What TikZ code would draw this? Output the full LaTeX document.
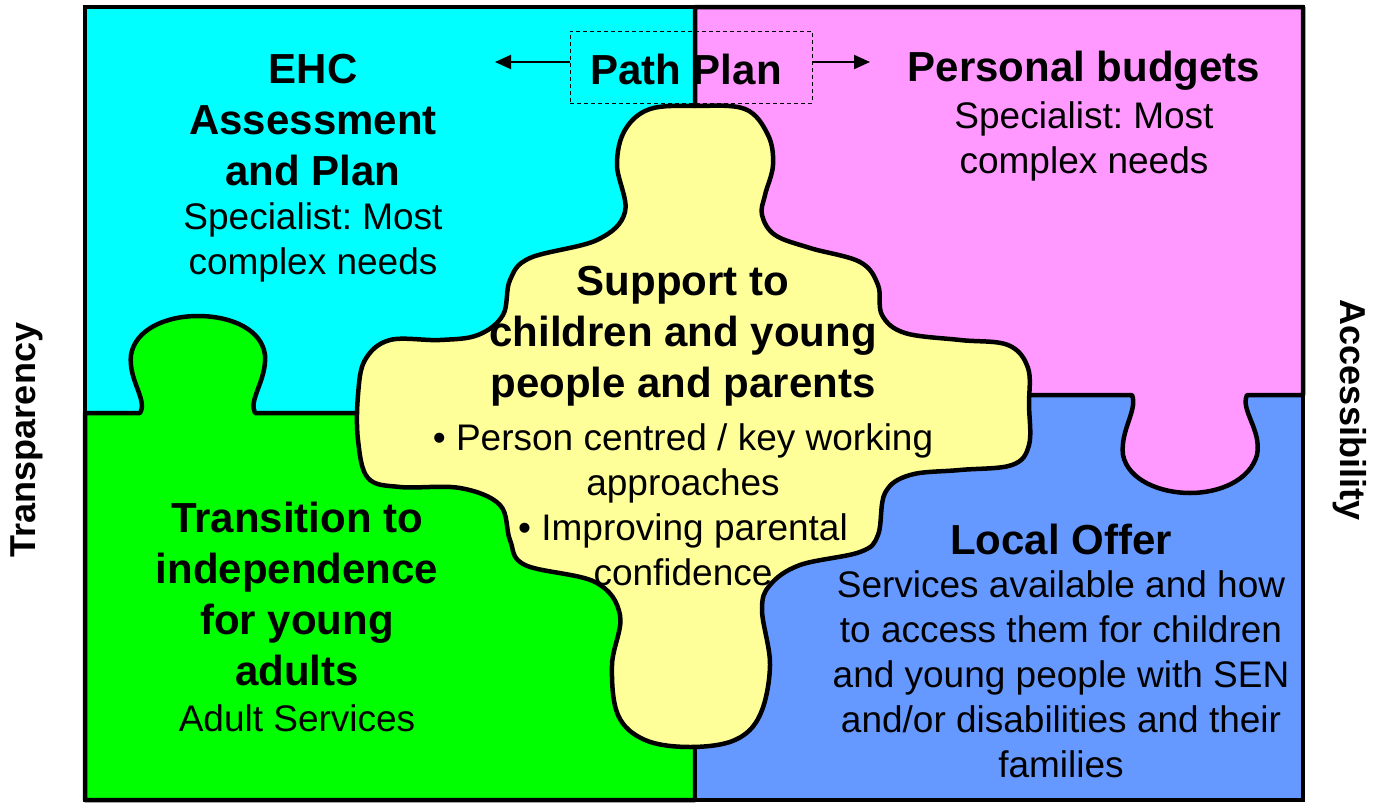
\documentclass[tikz,border=0pt]{standalone}
\usepackage{fontspec}
\setmainfont{Liberation Sans}
\usetikzlibrary{arrows.meta}
\definecolor{ehccyan}{HTML}{00FFFF}
\definecolor{budgetpink}{HTML}{FF99FF}
\definecolor{transgreen}{HTML}{00FF00}
\definecolor{offerblue}{HTML}{6699FF}
\definecolor{supportyellow}{HTML}{FFFF99}
\frenchspacing

\begin{document}
\begin{tikzpicture}[x=1pt,y=-1pt,
   piece/.style={draw=black,line width=4.5pt,line join=round},
   title/.style={font=\bfseries\fontsize{42}{51}\selectfont,align=center,inner sep=0pt},
   body/.style={font=\fontsize{37}{45}\selectfont,align=center,inner sep=0pt},
   side/.style={font=\bfseries\fontsize{36}{43}\selectfont,inner sep=0pt},
   pathbox/.style={draw=black,line width=1pt,dash pattern=on 4pt off 3pt,
      minimum width=242pt,minimum height=72pt,inner sep=0pt},
   arrow/.style={line width=2pt,-{Triangle[length=16pt,width=14pt]}}]
\useasboundingbox (0,0) rectangle (1373,803);
% the four outer pieces
\fill[ehccyan,piece] (85,7) rectangle (695,413);
\fill[transgreen,piece] (85,413) -- (140,413)
   .. controls (148,400) and (128,380) .. (131,355)
   .. controls (135,330) and (165,316) .. (198,316)
   .. controls (232,316) and (262,330) .. (265,355)
   .. controls (267,380) and (248,400) .. (255,413)
   -- (695,413) -- (695,800) -- (85,800) -- cycle;
\fill[offerblue,piece] (695,395) rectangle (1303,800);
\fill[budgetpink,piece] (695,7) -- (1303,7) -- (1303,395) -- (1247,395)
   .. controls (1240,410) and (1262,430) .. (1257,455)
   .. controls (1250,480) and (1220,493) .. (1190,493)
   .. controls (1160,493) and (1128,480) .. (1123,455)
   .. controls (1120,430) and (1138,410) .. (1132,395)
   -- (695,395) -- cycle;
% centre piece
\fill[supportyellow,piece] plot[smooth cycle,tension=0.6] coordinates {
   (695,106) (745,109) (768,135) (773,165) (765,195) (762,215) (775,235)
   (810,248) (860,262) (878,285) (882,315) (905,333) (960,340) (1008,345)
   (1028,368) (1029,405) (1029,445) (1012,465) (960,470) (910,475) (885,493)
   (878,535) (860,552) (800,565) (770,585) (762,610) (770,665) (760,715)
   (735,740) (690,747) (645,740) (618,715) (612,665) (620,615) (595,582)
   (525,565) (510,540) (500,505) (460,488) (400,487) (368,478) (358,440)
   (358,395) (365,360) (390,340) (440,340) (478,335) (503,315) (510,280)
   (530,258) (597,240) (625,212) (617,165) (625,130) (650,109)};
\draw[line width=4pt] (85,7) rectangle (1303,800);

\node[pathbox] (pathplan) at (691,67) {};
\node[title] (pathtext) at (686,69) {Path Plan};
\coordinate (pathleft) at (495,62);
\coordinate (pathright) at (870,62);
\draw[arrow] (pathplan.west |- pathleft) -- (pathleft);
\draw[arrow] (pathplan.east |- pathright) -- (pathright);

\node[title] (ehc) at (313,120) {EHC\\Assessment\\and Plan};
\node[body] (ehcsub) at (313,242) {Specialist: Most\\complex needs};
\node[title] (budgets) at (1084,71) {Personal budgets};
\node[body] (budgetssub) at (1084,141) {Specialist: Most\\complex needs};
\node[title] (support) at (683,336) {Support to\\children and young\\people and parents};
\node[body] (supportsub) at (683,505) {\textbullet\ Person centred / key working\\approaches\\\textbullet\ Improving parental\\confidence};
\node[title] (transition) at (297,594) {Transition to\\independence\\for young\\adults};
\node[body] (transitionsub) at (297,718) {Adult Services};
\node[title] (offer) at (1061,539) {Local Offer};
\node[body] (offersub) at (1061,674) {Services available and how\\to access them for children\\and young people with SEN\\and/or disabilities and their\\families};
\node[side,rotate=90] (transparency) at (27,440) {Transparency};
\node[side,rotate=-90] (accessibility) at (1350,410) {Accessibility};
\end{tikzpicture}
\end{document}
